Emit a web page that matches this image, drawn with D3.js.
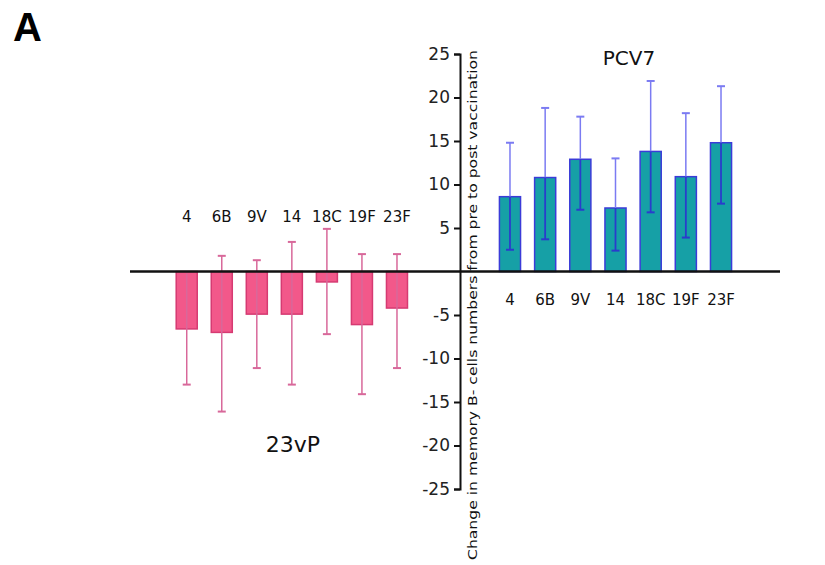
<!DOCTYPE html>
<html>
<head>
<meta charset="utf-8">
<script src="https://cdn.jsdelivr.net/npm/d3@7"></script>
<style>
  body { margin: 0; background: #fff; }
  text { font-family: "DejaVu Sans", sans-serif; }
</style>
</head>
<body>
<div id="chart"></div>
<script>
// serotypes and changes in memory B cells (mean, error bar ends)
var serotypes = ["4", "6B", "9V", "14", "18C", "19F", "23F"];

var pcv7_mean  = [8.6, 10.8, 12.9, 7.3, 13.8, 10.9, 14.8];
var pcv7_upper = [14.8, 18.8, 17.8, 13.0, 21.9, 18.2, 21.3];
var pcv7_lower = [2.5, 3.7, 7.1, 2.4, 6.8, 3.9, 7.8];

var ppv_mean  = [-6.6, -7.0, -4.9, -4.9, -1.2, -6.1, -4.2];
var ppv_upper = [-0.2, 1.8, 1.3, 3.4, 4.9, 2.0, 2.0];
var ppv_lower = [-13.0, -16.1, -11.1, -13.0, -7.2, -14.1, -11.1];

var yTicks = [25, 20, 15, 10, 5, -5, -10, -15, -20, -25];

var w = 825, h = 565;

var svg = d3.select("#chart").append("svg")
  .attr("width", w).attr("height", h);

var y = d3.scaleLinear().domain([-25, 25]).range([489, 54]);

var xPos = d3.scaleBand().domain(serotypes)
  .range([492.4, 738.6]).paddingInner(0.4).paddingOuter(0.2);
var xNeg = d3.scaleBand().domain(serotypes)
  .range([169.2, 414.5]).paddingInner(0.4).paddingOuter(0.2);

function rows(mean, upper, lower) {
  return serotypes.map(function(s, i) {
    return { s: s, m: mean[i], hi: upper[i], lo: lower[i] };
  });
}

// 23vP bars (pink, below zero)
var neg = svg.append("g");
neg.selectAll("rect").data(rows(ppv_mean, ppv_upper, ppv_lower)).enter().append("rect")
  .attr("x", function(d) { return xNeg(d.s); })
  .attr("width", xNeg.bandwidth())
  .attr("y", y(0))
  .attr("height", function(d) { return y(d.m) - y(0); })
  .attr("fill", "#f2588a").attr("stroke", "#d63a72").attr("stroke-width", 1.5);

var negErr = neg.selectAll("g.err").data(rows(ppv_mean, ppv_upper, ppv_lower)).enter().append("g")
  .attr("class", "err")
  .attr("transform", function(d) { return "translate(" + (xNeg(d.s) + xNeg.bandwidth() / 2) + ",0)"; });
negErr.append("line").attr("y1", function(d) { return y(d.lo); }).attr("y2", function(d) { return y(d.hi); })
  .attr("stroke", "#d8689a").attr("stroke-width", 1.5);
negErr.append("line").attr("x1", -4).attr("x2", 4)
  .attr("y1", function(d) { return y(d.lo); }).attr("y2", function(d) { return y(d.lo); })
  .attr("stroke", "#d8689a").attr("stroke-width", 2);
negErr.filter(function(d) { return d.hi > 0; }).append("line").attr("x1", -4).attr("x2", 4)
  .attr("y1", function(d) { return y(d.hi); }).attr("y2", function(d) { return y(d.hi); })
  .attr("stroke", "#d8689a").attr("stroke-width", 2);

// PCV7 bars (teal, above zero)
var pos = svg.append("g");
pos.selectAll("rect").data(rows(pcv7_mean, pcv7_upper, pcv7_lower)).enter().append("rect")
  .attr("x", function(d) { return xPos(d.s); })
  .attr("width", xPos.bandwidth())
  .attr("y", function(d) { return y(d.m); })
  .attr("height", function(d) { return y(0) - y(d.m); })
  .attr("fill", "#16a0a6").attr("stroke", "#3b3bd8").attr("stroke-width", 1.5);

var posErr = pos.selectAll("g.err").data(rows(pcv7_mean, pcv7_upper, pcv7_lower)).enter().append("g")
  .attr("class", "err")
  .attr("transform", function(d) { return "translate(" + (xPos(d.s) + xPos.bandwidth() / 2) + ",0)"; });
posErr.append("line").attr("y1", function(d) { return y(d.m); }).attr("y2", function(d) { return y(d.hi); })
  .attr("stroke", "#7b7bf2").attr("stroke-width", 1.5);
posErr.append("line").attr("y1", function(d) { return y(d.lo); }).attr("y2", function(d) { return y(d.m); })
  .attr("stroke", "#2a3ccc").attr("stroke-width", 1.8);
posErr.append("line").attr("x1", -4).attr("x2", 4)
  .attr("y1", function(d) { return y(d.hi); }).attr("y2", function(d) { return y(d.hi); })
  .attr("stroke", "#7b7bf2").attr("stroke-width", 2);
posErr.append("line").attr("x1", -4).attr("x2", 4)
  .attr("y1", function(d) { return y(d.lo); }).attr("y2", function(d) { return y(d.lo); })
  .attr("stroke", "#2a3ccc").attr("stroke-width", 2);

// zero line
svg.append("line").attr("x1", 130).attr("x2", 780)
  .attr("y1", y(0)).attr("y2", y(0))
  .attr("stroke", "#111").attr("stroke-width", 2.5);

// y axis
var yAxis = svg.append("g").attr("transform", "translate(460,0)")
  .call(d3.axisLeft(y).tickValues(yTicks).tickSize(6).tickPadding(4)
    .tickFormat(function(d) { return d; }));
yAxis.selectAll("path, line").attr("stroke", "#111").attr("stroke-width", 2);
yAxis.selectAll("text").attr("font-size", 17).attr("fill", "#222")
  .style("font-family", "DejaVu Sans, sans-serif");

// category labels
svg.append("g").selectAll("text").data(serotypes).enter().append("text")
  .attr("x", function(d) { return xNeg(d) + xNeg.bandwidth() / 2; })
  .attr("y", 222).attr("text-anchor", "middle")
  .attr("font-size", 15).attr("fill", "#111").text(function(d) { return d; });
svg.append("g").selectAll("text").data(serotypes).enter().append("text")
  .attr("x", function(d) { return xPos(d) + xPos.bandwidth() / 2; })
  .attr("y", 305).attr("text-anchor", "middle")
  .attr("font-size", 15).attr("fill", "#111").text(function(d) { return d; });

// group titles
svg.append("text").attr("x", 629).attr("y", 65).attr("text-anchor", "middle")
  .attr("font-size", 20).attr("fill", "#111").text("PCV7");
svg.append("text").attr("x", 293).attr("y", 452).attr("text-anchor", "middle")
  .attr("font-size", 22).attr("fill", "#111").text("23vP");

// y axis title
svg.append("text")
  .attr("transform", "translate(477,305) rotate(-90)")
  .attr("text-anchor", "middle")
  .attr("font-size", 12).attr("fill", "#111")
  .attr("textLength", 510).attr("lengthAdjust", "spacingAndGlyphs")
  .text("Change in memory B- cells numbers from pre to post vaccination");

// panel letter
svg.append("text").attr("x", 13).attr("y", 41)
  .attr("font-size", 40).attr("font-weight", "bold")
  .style("font-family", "Liberation Sans, Arial, sans-serif")
  .text("A");
</script>
</body>
</html>
